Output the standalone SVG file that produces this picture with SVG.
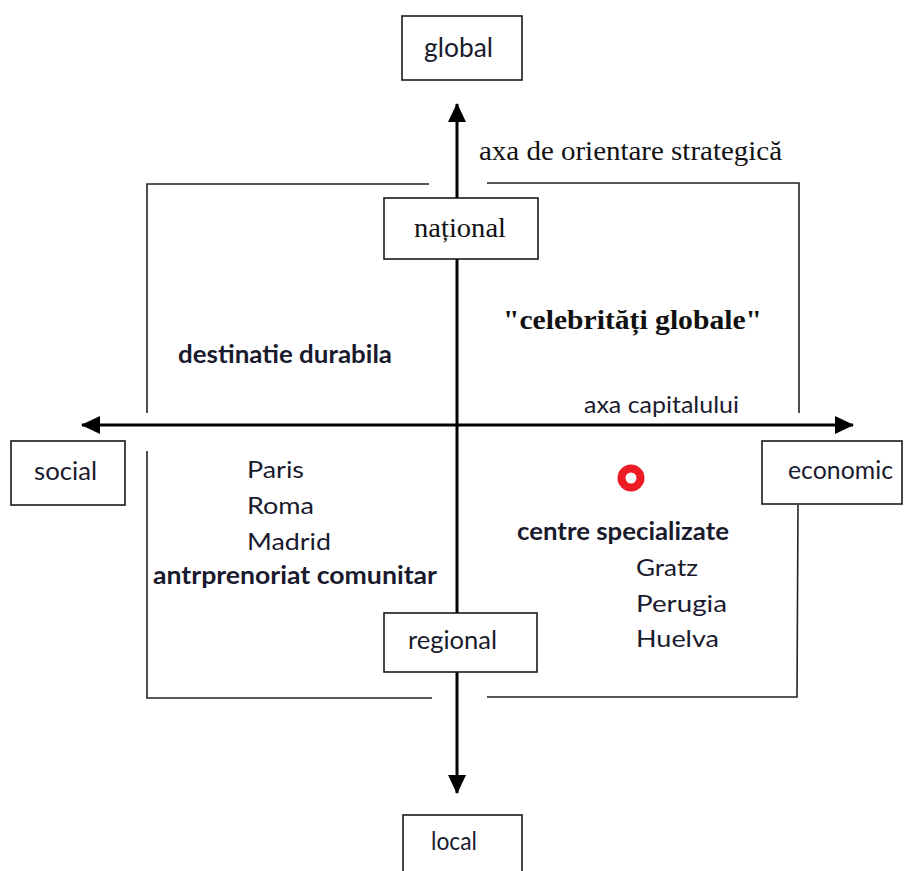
<svg xmlns="http://www.w3.org/2000/svg" width="911" height="871" viewBox="0 0 911 871">
<style>
.box{fill:#fff;stroke:#1a1a1a;stroke-width:1.6}
.frame{fill:none;stroke:#222;stroke-width:1.6}
.axis{stroke:#000;stroke-width:3;fill:none}
.sans{font-family:Lato,"Liberation Sans",sans-serif;fill:#1a1a2e}
.serif{font-family:"Liberation Serif","Times New Roman",serif;fill:#111}
.b{font-weight:bold}
</style>
<defs>
<marker id="ah" markerUnits="userSpaceOnUse" markerWidth="20" markerHeight="20" viewBox="0 0 20 20" refX="18" refY="10" orient="auto-start-reverse">
<path d="M0,1 L19,10 L0,19 Z" fill="#000"/>
</marker>
</defs>
<rect width="911" height="871" fill="#fff"/>
<g id="frame">
<polyline class="frame" points="147,413 147,184 429,184"/>
<polyline class="frame" points="487,183 799,183 799,413"/>
<polyline class="frame" points="147,451 147,698 432,698"/>
<polyline class="frame" points="487,697 797,697 798,505"/>
</g>
<g id="connectors">
<line class="axis" x1="457" y1="425" x2="457" y2="104" marker-end="url(#ah)"/>
<line class="axis" x1="457" y1="425" x2="457" y2="793" marker-end="url(#ah)"/>
<line class="axis" x1="457" y1="425" x2="82" y2="425" marker-end="url(#ah)"/>
<line class="axis" x1="457" y1="425" x2="853" y2="425" marker-end="url(#ah)"/>
</g>
<g id="global">
<rect class="box" x="402" y="16" width="120" height="64"/>
<text class="sans" x="424" y="57" font-size="27" textLength="69" lengthAdjust="spacingAndGlyphs">global</text>
</g>
<g id="national">
<rect class="box" x="384" y="198" width="154" height="61"/>
<text class="serif" x="414" y="237" font-size="28" textLength="92" lengthAdjust="spacingAndGlyphs">național</text>
</g>
<g id="regional">
<rect class="box" x="384" y="613" width="153" height="59"/>
<text class="sans" x="408" y="649" font-size="25" textLength="89" lengthAdjust="spacingAndGlyphs">regional</text>
</g>
<g id="local">
<rect class="box" x="403" y="815" width="119" height="70"/>
<text class="sans" x="431" y="850" font-size="25" textLength="46" lengthAdjust="spacingAndGlyphs">local</text>
</g>
<g id="social">
<rect class="box" x="11" y="441" width="114" height="64"/>
<text class="sans" x="34" y="480" font-size="25" textLength="63" lengthAdjust="spacingAndGlyphs">social</text>
</g>
<g id="economic">
<rect class="box" x="762" y="441" width="140" height="63"/>
<text class="sans" x="788" y="479" font-size="25" textLength="105" lengthAdjust="spacingAndGlyphs">economic</text>
</g>
<g id="labels">
<text class="serif" x="479" y="160" font-size="28" textLength="303" lengthAdjust="spacingAndGlyphs">axa de orientare strategică</text>
<text class="sans" x="584" y="413" font-size="23" textLength="155" lengthAdjust="spacingAndGlyphs">axa capitalului</text>
<text class="serif b" x="503" y="329" font-size="28" textLength="259" lengthAdjust="spacingAndGlyphs">"celebrități globale"</text>
<text class="sans b" x="178" y="363" font-size="25" textLength="214" lengthAdjust="spacingAndGlyphs">destinatie durabila</text>
<text class="sans" x="247" y="478" font-size="23" textLength="57" lengthAdjust="spacingAndGlyphs">Paris</text>
<text class="sans" x="247" y="514" font-size="23" textLength="67" lengthAdjust="spacingAndGlyphs">Roma</text>
<text class="sans" x="247" y="550" font-size="23" textLength="84" lengthAdjust="spacingAndGlyphs">Madrid</text>
<text class="sans b" x="153" y="584" font-size="24" textLength="284" lengthAdjust="spacingAndGlyphs">antrprenoriat comunitar</text>
<text class="sans b" x="517" y="540" font-size="24" textLength="212" lengthAdjust="spacingAndGlyphs">centre specializate</text>
<text class="sans" x="636" y="576" font-size="23" textLength="62" lengthAdjust="spacingAndGlyphs">Gratz</text>
<text class="sans" x="636" y="612" font-size="23" textLength="91" lengthAdjust="spacingAndGlyphs">Perugia</text>
<text class="sans" x="636" y="647" font-size="23" textLength="83" lengthAdjust="spacingAndGlyphs">Huelva</text>
<circle cx="631" cy="478" r="9.5" fill="none" stroke="#ed1c24" stroke-width="8"/>
</g>
</svg>
